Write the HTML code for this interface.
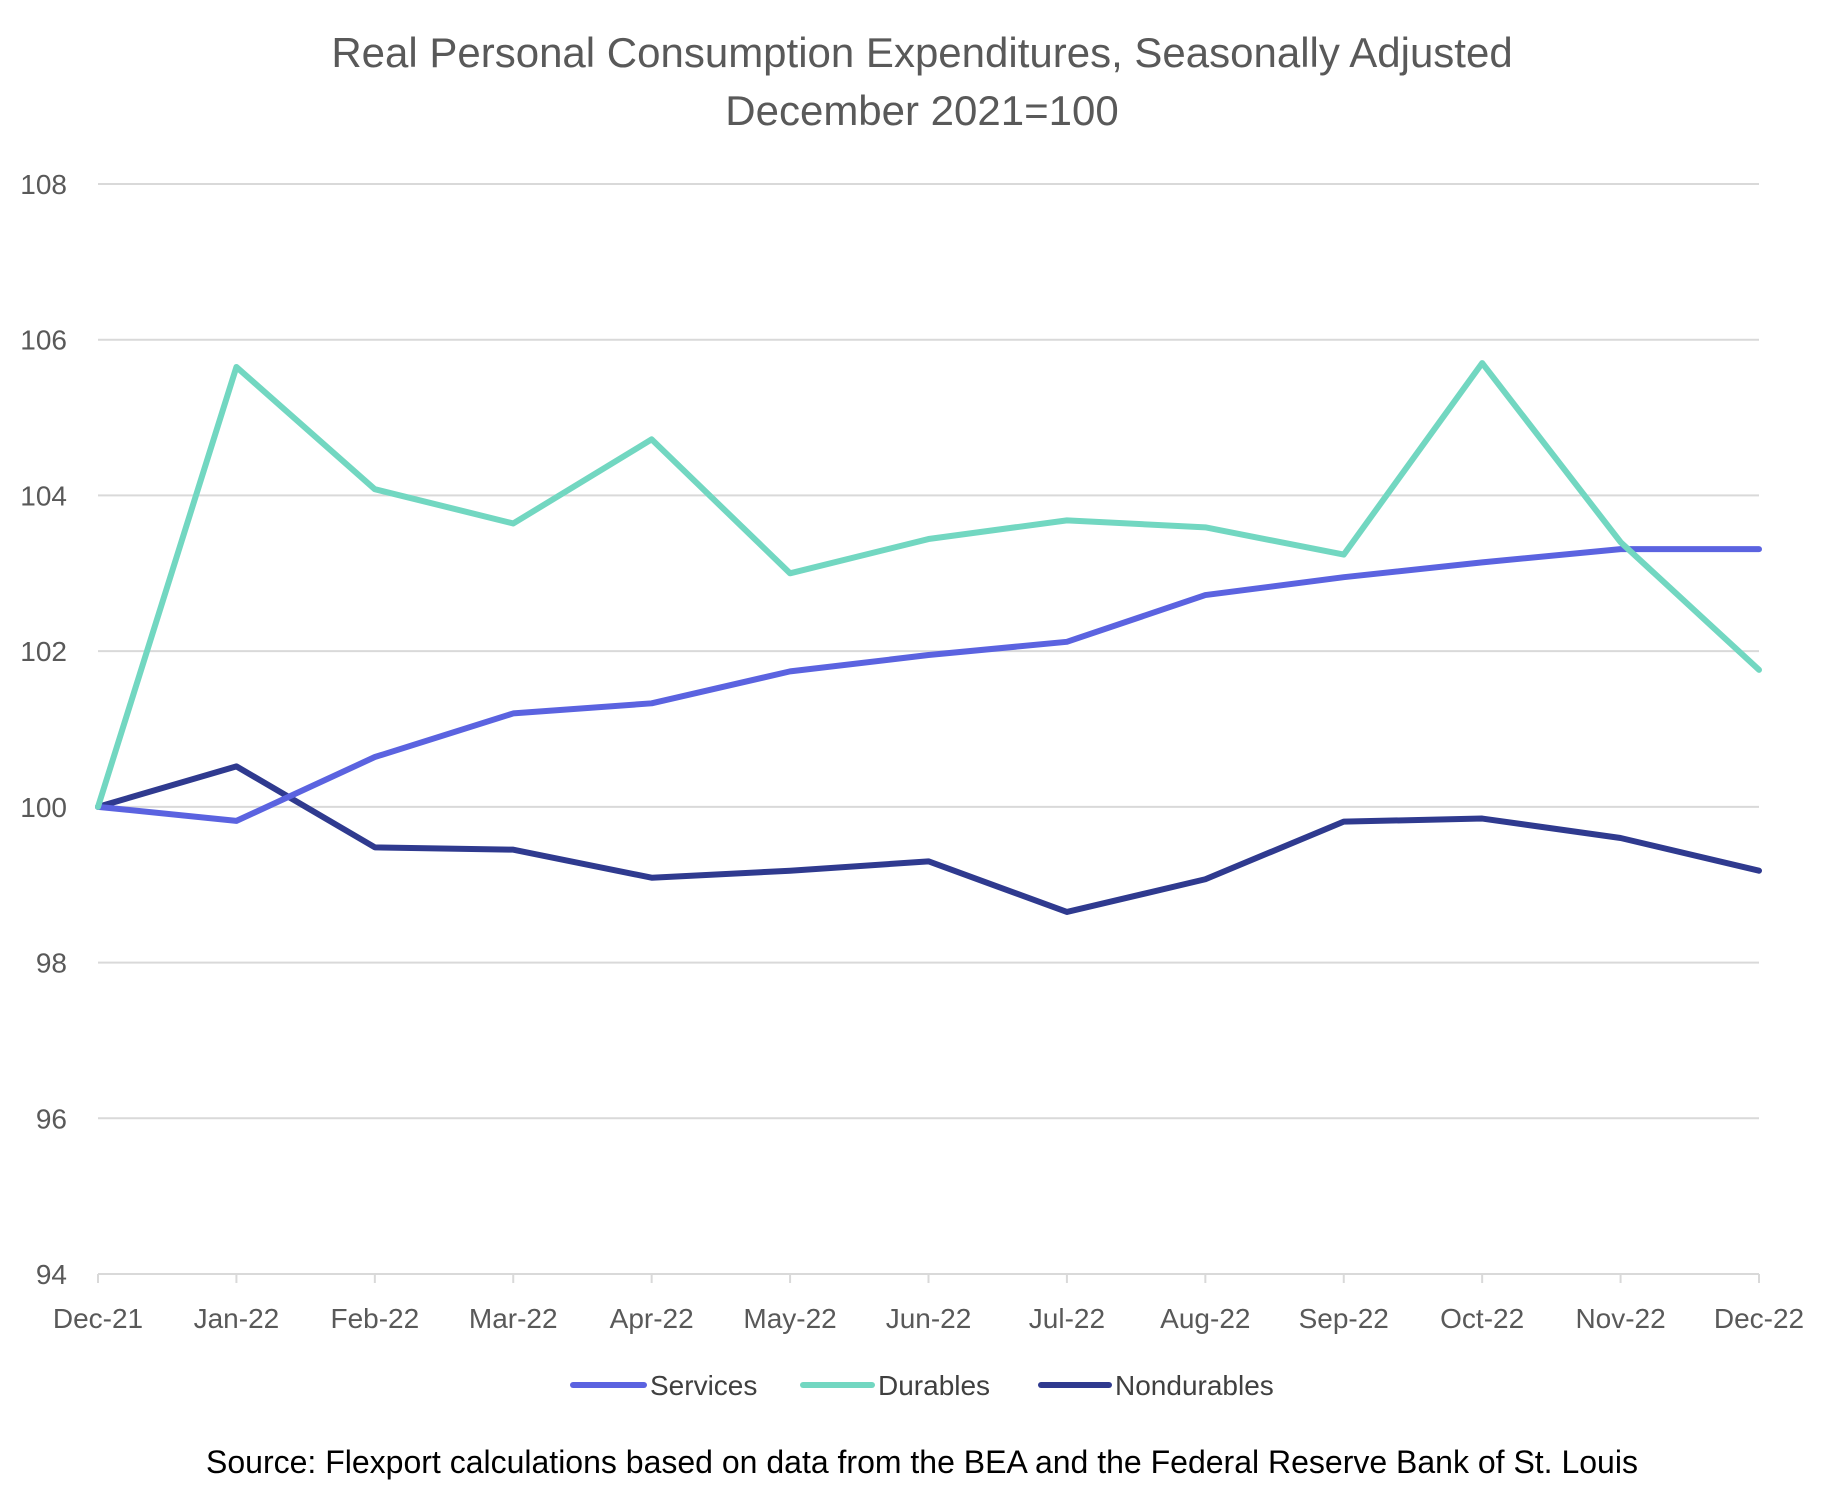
<!DOCTYPE html>
<html><head><meta charset="utf-8"><style>
body{margin:0;background:#fff}
svg text{font-family:"Liberation Sans",sans-serif}
</style></head><body>
<svg width="1845" height="1500" viewBox="0 0 1845 1500">
<text x="922" y="67" text-anchor="middle" font-size="42" fill="#595959">Real Personal Consumption Expenditures, Seasonally Adjusted</text>
<text x="922" y="125" text-anchor="middle" font-size="42" fill="#595959">December 2021=100</text>
<g id="grid"></g><g id="xaxis"></g><g id="lines"></g>
<g>
<line x1="573" y1="1385" x2="644" y2="1385" stroke="#5b63e0" stroke-width="6" stroke-linecap="round"/>
<text x="650" y="1395" font-size="28" fill="#404040">Services</text>
<line x1="803" y1="1385" x2="872" y2="1385" stroke="#72d7c1" stroke-width="6" stroke-linecap="round"/>
<text x="878" y="1395" font-size="28" fill="#404040">Durables</text>
<line x1="1041" y1="1385" x2="1109" y2="1385" stroke="#2f3a8f" stroke-width="6" stroke-linecap="round"/>
<text x="1115" y="1395" font-size="28" fill="#404040">Nondurables</text>
</g>
<text x="922" y="1473" text-anchor="middle" font-size="32" fill="#000">Source: Flexport calculations based on data from the BEA and the Federal Reserve Bank of St. Louis</text>
</svg>
<script>
const categories=["Dec-21","Jan-22","Feb-22","Mar-22","Apr-22","May-22","Jun-22","Jul-22","Aug-22","Sep-22","Oct-22","Nov-22","Dec-22"];
const services=[100,99.82,100.64,101.2,101.33,101.74,101.95,102.12,102.72,102.95,103.14,103.31,103.31];
const durables=[100,105.65,104.08,103.64,104.72,103.0,103.44,103.68,103.59,103.24,105.7,103.4,101.76];
const nondurables=[100,100.52,99.48,99.45,99.09,99.18,99.3,98.65,99.07,99.81,99.85,99.6,99.18];
const yTicks=[94,96,98,100,102,104,106,108];
const NS="http://www.w3.org/2000/svg";
const X0=98,X1=1759,Y0=1274,Y1=184,YMIN=94,YMAX=108;
function xs(i){return X0+(X1-X0)*i/(categories.length-1);}
function ys(v){return Y0-(v-YMIN)/(YMAX-YMIN)*(Y0-Y1);}
function mk(t,a){const e=document.createElementNS(NS,t);for(const k in a)e.setAttribute(k,a[k]);return e;}
const grid=document.getElementById('grid');
yTicks.forEach(v=>{
 const l=mk('line',{x1:X0,x2:X1,y1:ys(v),y2:ys(v),stroke:'#d9d9d9','stroke-width':2});
 
 
 grid.appendChild(l);
 const t=mk('text',{x:67,y:ys(v)+10,'text-anchor':'end','font-size':28,fill:'#595959'});
 t.textContent=v;
 
 
 grid.appendChild(t);
});
const xa=document.getElementById('xaxis');
categories.forEach((c,i)=>{
 const tk=mk('line',{x1:xs(i),x2:xs(i),y1:Y0,y2:Y0+9,stroke:'#d9d9d9','stroke-width':2});
 
 
 xa.appendChild(tk);
 const t=mk('text',{x:xs(i),y:1328,'text-anchor':'middle','font-size':28,fill:'#595959'});
 t.textContent=c;
 
 
 xa.appendChild(t);
});
const lines=document.getElementById('lines');
[[nondurables,'#2f3a8f','nondurables-line'],[services,'#5b63e0','services-line'],[durables,'#72d7c1','durables-line']].forEach(([d,c,n])=>{
 const p=mk('polyline',{points:d.map((v,i)=>xs(i)+','+ys(v)).join(' '),fill:'none',stroke:c,'stroke-width':6,'stroke-linejoin':'round','stroke-linecap':'round'});
 
 
 lines.appendChild(p);
});
</script>
</body></html>
